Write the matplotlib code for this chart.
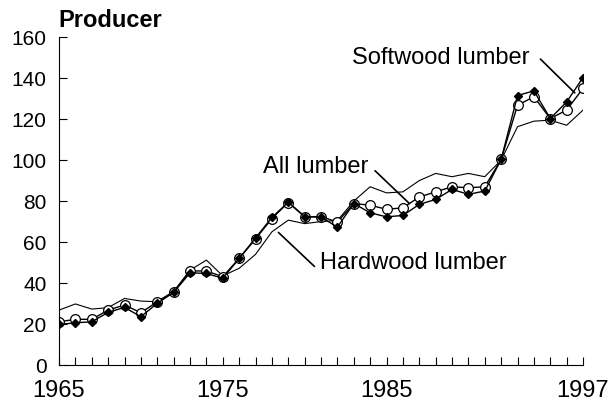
import matplotlib
matplotlib.use('Agg')
import matplotlib.pyplot as plt

plt.rcParams['font.family'] = ['Liberation Sans', 'DejaVu Sans']

years = list(range(1965, 1998))
all_lumber = [21.1, 22.3, 22.3, 26.8, 29.3, 25.5, 30.9, 35.8, 45.9, 45.9, 43.1,
              52.0, 61.5, 71.5, 79.3, 72.4, 72.4, 69.8, 78.8, 78.0,
              76.0, 76.7, 82.0, 84.5, 87.0, 86.5, 87.0,
              100.3, 126.8, 130.9, 120.3, 124.4, 135.0]
softwood = [19.8, 20.6, 21.1, 25.7, 28.1, 23.6, 30.1, 35.4, 45.0, 44.7, 42.3,
            52.0, 62.0, 72.0, 79.5, 72.4, 72.2, 67.3, 78.8, 74.3,
            72.3, 73.0, 78.4, 80.8, 85.7, 83.3, 84.9,
            100.3, 131.5, 133.8, 120.3, 128.4, 140.3]
hardwood = [26.8, 29.8, 27.3, 28.0, 32.5, 31.2, 30.9, 35.8, 46.3, 51.2, 43.5,
            47.2, 54.0, 65.0, 70.7, 69.0, 70.0, 70.5, 80.0, 87.0,
            84.0, 84.5, 90.0, 93.5, 91.9, 93.5, 91.9,
            100.0, 116.3, 119.0, 119.5, 117.0, 124.4]
xtick_labels = [1965, 1975, 1985, 1997]
yticks = [0, 20, 40, 60, 80, 100, 120, 140, 160]

fig = plt.figure(figsize=(6.11, 4.04), dpi=100)
ax = fig.add_axes([0.0966, 0.0965, 0.8576, 0.8115])

ax.plot(years, hardwood, color='black', lw=0.8)
ax.plot(years, all_lumber, color='black', lw=1.0, marker='o', ms=7,
        mfc='white', mec='black', mew=0.9)
ax.plot(years, softwood, color='black', lw=1.0, marker='D', ms=4.5,
        mfc='black', mec='black')

ax.set_xlim(1965, 1997)
ax.set_ylim(0, 160)
ax.set_xticks(xtick_labels)
ax.set_xticks(years, minor=True)
ax.set_yticks(yticks)
ax.tick_params(direction='in', length=6, width=0.8)
ax.tick_params(axis='y', pad=9, labelsize=15)
ax.tick_params(axis='x', pad=11, labelsize=17)
ax.tick_params(axis='x', which='minor', direction='in', length=6, width=0.8)
for s in ['top', 'right']:
    ax.spines[s].set_visible(False)
for s in ['left', 'bottom']:
    ax.spines[s].set_linewidth(0.8)

fig.text(58 / 611, 1 - 26.7 / 404, 'Producer', fontsize=17, fontweight='bold',
         ha='left', va='baseline')

# labels with pointer lines
ax.text(1988.3, 146.9, 'Softwood lumber', fontsize=17, ha='center', va='baseline')
ax.annotate('', xy=(1996.5, 132.8), xytext=(1994.4, 149.3),
            arrowprops=dict(arrowstyle='-', lw=1.2, color='black',
                            shrinkA=0, shrinkB=0))
ax.text(1980.66, 93.9, 'All lumber', fontsize=17, ha='center', va='baseline')
ax.annotate('', xy=(1986.4, 78.8), xytext=(1984.3, 94.8),
            arrowprops=dict(arrowstyle='-', lw=1.2, color='black',
                            shrinkA=0, shrinkB=0))
ax.text(1980.94, 47.0, 'Hardwood lumber', fontsize=17, ha='left', va='baseline')
ax.annotate('', xy=(1980.6, 48.1), xytext=(1978.4, 64.7),
            arrowprops=dict(arrowstyle='-', lw=1.2, color='black',
                            shrinkA=0, shrinkB=0))

fig.savefig('out.png', dpi=100)
